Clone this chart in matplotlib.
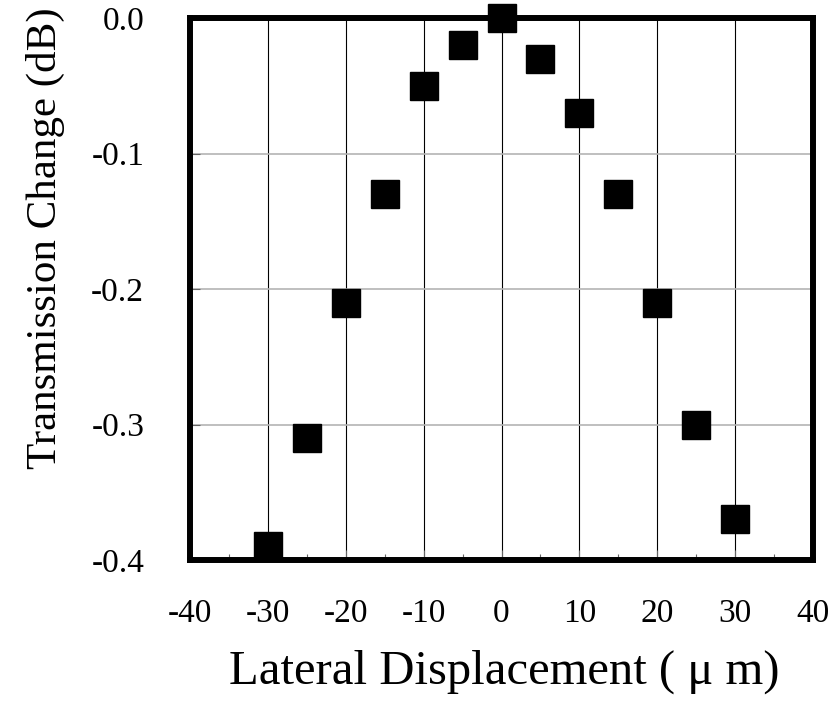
import matplotlib
matplotlib.use("Agg")
import matplotlib.pyplot as plt
from matplotlib.ticker import MultipleLocator

# lateral displacement (um) and transmission change (dB)
displacement = [-30, -25, -20, -15, -10, -5, 0, 5, 10, 15, 20, 25, 30]
trans_change = [-0.39, -0.31, -0.21, -0.13, -0.05, -0.02, 0.0,
                -0.03, -0.07, -0.13, -0.21, -0.30, -0.37]

x_ticks = [-40, -30, -20, -10, 0, 10, 20, 30, 40]
y_ticks = [0.0, -0.1, -0.2, -0.3, -0.4]

plt.rcParams['font.family'] = ['Liberation Serif', 'DejaVu Serif']

fig = plt.figure(figsize=(8.36, 7.09), dpi=100)
ax = fig.add_axes([190/836, 1 - 560/709, 623/836, 542/709])

ax.set_xlim(-40, 40)
ax.set_ylim(-0.4, 0.0)
ax.set_xticks(x_ticks)
ax.set_xticklabels([str(v) for v in x_ticks])   # plain hyphen like the original
ax.set_yticks(y_ticks)
ax.set_yticklabels(["%.1f" % v for v in y_ticks])
ax.xaxis.set_minor_locator(MultipleLocator(5))

# grid: dark vertical lines, light horizontal lines
for xv in x_ticks[1:-1]:
    ax.axvline(xv, color='black', lw=0.8, zorder=1)
for yv in y_ticks[1:-1]:
    ax.axhline(yv, color='#b4b4b4', lw=1.2, zorder=1)

ax.plot(displacement, trans_change, linestyle='none', marker='s',
        ms=19.5, color='black', clip_on=False, zorder=5)

for s in ax.spines.values():
    s.set_linewidth(4.3)
    s.set_zorder(4)

ax.tick_params(axis='both', which='major', direction='in', length=7,
               width=0.8, color='#666666', labelsize=24)
ax.tick_params(axis='x', which='minor', direction='in', length=4,
               width=0.8, color='#666666')
ax.tick_params(axis='x', which='major', pad=28)
ax.tick_params(axis='y', which='major', pad=33)

fig.text(504/836, 1 - 672/709, "Lateral Displacement ( \u03bc m)",
         ha='center', va='center', fontsize=35)
fig.text(45/836, 1 - 238/709, "Transmission Change (dB)",
         ha='center', va='center', rotation=90, fontsize=31)

fig.savefig("out.png", dpi=100)
